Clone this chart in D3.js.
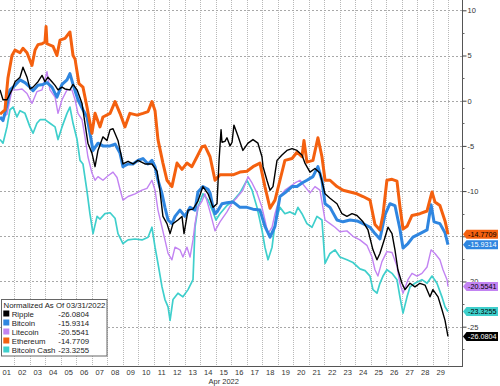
<!DOCTYPE html>
<html><head><meta charset="utf-8">
<script src="https://cdn.jsdelivr.net/npm/d3@7"></script>
<style>html,body{margin:0;padding:0;background:#fff;}svg{display:block;font-family:"Liberation Sans",Arial,sans-serif;}</style>
</head><body><svg id="c" width="500" height="386"></svg>
<script>
// ---- data (day offset since 2022-04-01 00:00, normalized % change) ----
const seriesNames = ["Ripple","Bitcoin","Litecoin","Ethereum","Bitcoin Cash"];
const lastValues = [-26.0804,-15.9314,-20.5541,-14.7709,-23.3255];
const dayLabels = ["01","02","03","04","05","06","07","08","09","10","11","12","13","14","15","16","17","18","19","20","21","22","23","24","25","26","27","28","29"];
const yTicks = [10,5,0,-5,-10,-15,-20,-25];
const yTickLabels = ["10","5","0","-5","-10","","-20","-25"]; // -15 is hidden behind the end labels
const monthLabel = "Apr 2022";
const legendTitle = "Normalized As Of 03/31/2022";

const ripple = [[0.07,1.2],[0.26,0.1],[0.52,0.1],[0.84,1.2],[1.04,2.1],[1.36,2.6],[1.55,3.7],[1.81,2.6],[2.00,1.3],[2.20,1.5],[2.52,2.1],[2.78,2.8],[2.97,2.1],[3.16,2.6],[3.42,2.1],[3.62,1.7],[3.81,1.2],[4.07,1.5],[4.26,1.3],[4.58,1.2],[4.78,1.8],[5.04,1.2],[5.36,-0.3],[5.55,-2.5],[5.74,-4.7],[6.00,-5.8],[6.20,-7.3],[6.39,-5.5],[6.71,-4.0],[6.97,-4.4],[7.17,-3.2],[7.36,-3.1],[7.68,-4.4],[8.00,-7.0],[8.33,-6.7],[8.65,-7.0],[8.97,-6.6],[9.42,-7.0],[9.87,-7.0],[10.20,-7.8],[10.39,-10.0],[10.58,-12.8],[10.84,-13.6],[11.04,-14.7],[11.23,-13.6],[11.55,-13.2],[11.81,-12.8],[11.94,-14.7],[12.20,-12.1],[12.52,-12.0],[12.84,-11.1],[13.16,-9.5],[13.49,-10.3],[13.81,-11.8],[14.07,-11.4],[14.20,-6.6],[14.33,-3.2],[14.39,-4.6],[14.58,-4.5],[14.71,-4.1],[14.91,-5.0],[15.04,-4.6],[15.16,-2.7],[15.42,-3.9],[15.74,-5.5],[16.07,-4.7],[16.39,-4.3],[16.71,-4.7],[16.97,-6.2],[17.04,-7.3],[17.29,-8.8],[17.49,-9.9],[17.68,-9.5],[17.94,-6.6],[18.26,-6.0],[18.58,-5.5],[18.91,-5.3],[19.23,-5.5],[19.55,-6.0],[19.74,-6.9],[20.07,-7.9],[20.39,-7.5],[20.71,-8.0],[21.04,-10.3],[21.36,-10.8],[21.81,-11.4],[22.13,-12.5],[22.45,-12.8],[22.78,-12.5],[23.10,-12.7],[23.49,-13.4],[23.81,-14.3],[24.13,-16.5],[24.39,-17.6],[24.58,-16.9],[24.91,-15.1],[25.10,-14.0],[25.36,-14.7],[25.55,-16.5],[25.74,-18.7],[26.00,-20.2],[26.20,-20.9],[26.52,-20.2],[26.84,-20.6],[27.16,-20.2],[27.49,-20.4],[27.81,-21.7],[28.00,-20.9],[28.33,-21.7],[28.58,-23.1],[28.78,-24.3],[28.97,-26.0804]];

const bitcoin = [[0.07,-1.8],[0.26,-2.2],[0.52,-0.5],[0.71,1.2],[1.04,1.7],[1.36,2.3],[1.68,2.0],[2.00,1.5],[2.20,1.1],[2.52,1.7],[2.84,1.8],[3.10,2.0],[3.42,1.5],[3.74,0.4],[4.07,1.8],[4.39,2.3],[4.58,3.0],[4.78,1.8],[5.10,0.1],[5.42,-1.0],[5.68,-1.8],[5.87,-3.6],[6.07,-5.5],[6.39,-4.7],[6.71,-5.0],[7.17,-5.0],[7.49,-4.8],[7.81,-5.8],[8.00,-7.3],[8.33,-7.0],[8.65,-7.0],[8.97,-6.6],[9.29,-6.4],[9.62,-7.0],[9.87,-6.6],[10.07,-7.3],[10.26,-8.8],[10.52,-10.3],[10.71,-11.8],[10.91,-13.2],[11.16,-13.6],[11.36,-12.8],[11.68,-12.1],[12.00,-12.8],[12.33,-11.8],[12.65,-12.1],[12.84,-10.1],[13.16,-9.5],[13.49,-9.8],[13.62,-10.2],[13.81,-11.8],[13.94,-12.5],[14.07,-12.3],[14.39,-11.4],[14.71,-11.3],[15.10,-11.2],[15.55,-11.8],[16.00,-11.8],[16.39,-12.0],[16.84,-12.1],[17.16,-13.9],[17.49,-15.1],[17.81,-13.9],[18.13,-10.6],[18.45,-10.2],[18.91,-9.5],[19.23,-9.5],[19.55,-9.1],[19.87,-8.8],[20.26,-8.4],[20.58,-7.3],[20.84,-8.8],[21.04,-11.4],[21.36,-11.8],[21.81,-13.2],[22.20,-13.4],[22.65,-13.2],[23.10,-13.3],[23.49,-13.6],[23.94,-14.0],[24.26,-14.7],[24.58,-15.3],[24.91,-12.6],[25.23,-11.4],[25.55,-11.6],[25.87,-14.2],[26.07,-16.3],[26.39,-15.8],[26.71,-15.1],[27.16,-14.7],[27.62,-14.3],[27.88,-11.5],[28.07,-13.4],[28.45,-13.6],[28.78,-14.6],[28.97,-15.9314]];

const litecoin = [[0.07,-2.1],[0.52,-1.5],[0.84,1.2],[1.16,1.2],[1.49,1.3],[1.81,0.8],[2.13,-0.3],[2.45,1.0],[2.78,1.2],[3.10,3.2],[3.29,1.2],[3.62,0.4],[3.81,-1.4],[4.07,0.1],[4.39,1.2],[4.71,1.2],[4.91,0.1],[5.10,-1.4],[5.36,-2.1],[5.55,-4.0],[5.74,-6.2],[6.00,-8.0],[6.20,-8.8],[6.39,-8.4],[6.71,-8.8],[7.04,-8.3],[7.36,-7.9],[7.62,-8.5],[7.81,-9.8],[8.00,-11.0],[8.33,-10.6],[8.78,-10.3],[9.23,-9.9],[9.55,-9.7],[9.87,-8.8],[10.07,-9.9],[10.26,-12.1],[10.52,-14.0],[10.71,-15.4],[10.91,-16.9],[11.16,-17.6],[11.36,-16.2],[11.68,-16.5],[11.87,-17.3],[12.13,-16.2],[12.33,-17.3],[12.52,-15.4],[12.65,-13.6],[12.84,-11.8],[13.10,-11.1],[13.29,-10.3],[13.62,-12.3],[13.94,-14.4],[14.26,-13.4],[14.71,-12.3],[15.04,-11.3],[15.36,-10.7],[15.74,-9.9],[16.07,-8.4],[16.33,-9.1],[16.65,-10.2],[16.97,-11.8],[17.16,-13.2],[17.36,-14.7],[17.62,-14.0],[17.81,-12.5],[18.13,-10.6],[18.45,-9.9],[18.78,-9.5],[19.10,-9.1],[19.42,-8.8],[19.74,-9.5],[20.07,-10.2],[20.39,-9.5],[20.71,-9.9],[21.04,-13.2],[21.36,-13.6],[21.68,-14.0],[22.00,-14.5],[22.45,-14.4],[22.84,-15.0],[23.29,-15.4],[23.74,-16.0],[24.07,-17.3],[24.26,-18.7],[24.45,-19.4],[24.71,-17.8],[25.03,-16.7],[25.36,-16.8],[25.68,-18.3],[25.87,-20.2],[26.07,-21.3],[26.39,-19.8],[26.65,-19.1],[26.97,-19.4],[27.29,-19.1],[27.62,-18.4],[27.88,-16.5],[28.13,-16.9],[28.45,-17.6],[28.65,-18.7],[28.91,-19.8],[28.97,-20.5541]];

const ethereum = [[0.07,-1.5],[0.39,-1.0],[0.58,2.5],[0.84,5.0],[1.04,5.6],[1.36,5.3],[1.55,5.8],[1.81,5.3],[2.13,3.9],[2.33,5.6],[2.52,6.2],[2.78,6.3],[2.97,6.5],[3.04,8.2],[3.10,6.3],[3.49,6.0],[3.74,5.0],[3.94,6.7],[4.26,6.9],[4.58,7.6],[4.78,5.0],[4.91,4.6],[5.16,1.9],[5.42,1.5],[5.68,-0.7],[6.00,-3.6],[6.20,-1.4],[6.52,-2.9],[6.71,-1.8],[7.17,-1.4],[7.49,-0.1],[7.81,-1.4],[8.13,-2.9],[8.45,-1.4],[8.91,-1.6],[9.29,-1.4],[9.62,-1.2],[9.87,-0.1],[10.07,-1.1],[10.26,-4.3],[10.58,-6.9],[10.84,-8.8],[11.16,-9.5],[11.49,-6.9],[11.81,-7.6],[12.13,-6.9],[12.45,-7.3],[12.78,-6.2],[13.10,-5.1],[13.29,-5.0],[13.62,-6.2],[13.94,-8.8],[14.26,-8.2],[14.71,-8.2],[15.10,-8.2],[15.55,-7.9],[16.00,-7.8],[16.39,-7.3],[16.84,-6.9],[17.16,-9.5],[17.49,-11.9],[17.81,-11.0],[18.13,-8.8],[18.45,-6.6],[18.91,-6.4],[19.23,-5.7],[19.55,-6.2],[19.68,-4.4],[19.87,-6.8],[20.26,-6.6],[20.58,-4.1],[20.84,-6.2],[21.04,-8.8],[21.36,-8.8],[21.81,-9.5],[22.20,-9.9],[22.65,-10.1],[23.10,-10.3],[23.49,-10.6],[23.94,-11.0],[24.26,-13.7],[24.58,-14.3],[24.78,-12.6],[25.03,-8.8],[25.36,-8.7],[25.68,-8.9],[25.87,-11.7],[26.07,-14.2],[26.33,-13.9],[26.65,-12.7],[27.16,-12.5],[27.62,-12.2],[27.94,-10.1],[28.13,-11.2],[28.45,-11.6],[28.78,-13.3],[28.97,-14.7709]];

const bitcoinCash = [[0.07,-4.3],[0.26,-4.7],[0.52,-2.9],[0.71,-1.0],[0.91,-0.7],[1.16,-1.8],[1.36,-1.1],[1.68,-1.4],[2.00,-2.9],[2.20,-3.6],[2.45,-2.5],[2.65,-2.1],[2.97,-2.1],[3.29,-2.5],[3.62,-2.9],[3.81,-4.3],[4.07,-2.9],[4.39,-1.4],[4.58,-0.7],[4.78,-2.5],[5.04,-4.3],[5.23,-6.6],[5.42,-7.0],[5.68,-10.0],[5.87,-12.5],[6.07,-14.7],[6.33,-12.8],[6.52,-13.1],[6.84,-12.5],[7.17,-12.4],[7.49,-13.0],[7.68,-14.7],[8.00,-15.8],[8.33,-15.4],[8.78,-15.3],[9.23,-15.4],[9.62,-15.1],[9.87,-14.0],[10.07,-16.2],[10.26,-18.0],[10.52,-20.6],[10.71,-22.0],[10.91,-22.8],[11.04,-24.3],[11.23,-22.0],[11.55,-21.3],[11.87,-21.7],[12.20,-20.9],[12.52,-19.8],[12.65,-14.0],[12.84,-11.8],[13.16,-10.3],[13.49,-11.0],[13.81,-12.3],[14.00,-13.2],[14.26,-12.5],[14.71,-11.6],[15.10,-11.1],[15.55,-10.2],[16.00,-8.8],[16.33,-9.9],[16.65,-11.8],[16.97,-14.3],[17.16,-16.2],[17.36,-17.6],[17.62,-16.2],[17.81,-13.6],[18.13,-11.8],[18.45,-12.5],[18.78,-12.3],[19.10,-12.6],[19.29,-11.8],[19.55,-12.5],[19.87,-13.6],[20.20,-14.0],[20.52,-12.8],[20.84,-13.2],[21.04,-18.0],[21.36,-16.9],[21.68,-16.5],[22.00,-17.3],[22.45,-17.6],[22.84,-17.9],[23.29,-18.6],[23.62,-18.8],[23.94,-19.4],[24.13,-20.9],[24.39,-21.3],[24.58,-20.2],[24.78,-19.4],[25.03,-18.7],[25.36,-19.1],[25.68,-19.8],[25.87,-21.7],[26.07,-23.5],[26.33,-21.7],[26.52,-20.6],[26.84,-20.2],[27.29,-19.8],[27.62,-20.2],[27.94,-19.4],[28.26,-20.2],[28.58,-21.7],[28.78,-22.8],[28.97,-23.3255]];

// ---- styles ----
const colors = {"Ripple":"#000000","Bitcoin":"#2f86e0","Litecoin":"#c283f2","Ethereum":"#f4600f","Bitcoin Cash":"#3fcfcc"};
const widths = {"Ripple":1.4,"Bitcoin":3,"Litecoin":1.4,"Ethereum":3,"Bitcoin Cash":1.7};
const labelText = {"Ripple":"#fff","Bitcoin":"#fff","Litecoin":"#000","Ethereum":"#000","Bitcoin Cash":"#000"};
const dataByName = {"Ripple":ripple,"Bitcoin":bitcoin,"Litecoin":litecoin,"Ethereum":ethereum,"Bitcoin Cash":bitcoinCash};
const drawOrder = ["Bitcoin Cash","Litecoin","Bitcoin","Ethereum","Ripple"];

const plotRight = 462.5, plotBottom = 366;
const t0 = Date.UTC(2022,3,1), DAY = 86400000;
const toDate = d => new Date(t0 + d*DAY);

const x = d3.scaleUtc().domain([toDate(0), toDate(29.94)]).range([-1.05, 463]);
const y = d3.scaleLinear().domain([-29.35, 11.14]).range([plotBottom, 0]);

const svg = d3.select("#c");
svg.append("defs").append("clipPath").attr("id","clip")
  .append("rect").attr("x",0).attr("y",0).attr("width",plotRight).attr("height",plotBottom);

// gridlines
const days = d3.utcDay.range(toDate(1), toDate(30));
svg.append("g").selectAll("line").data(days).join("line")
  .attr("x1",d=>Math.round(x(d))+0.5).attr("x2",d=>Math.round(x(d))+0.5)
  .attr("y1",0).attr("y2",plotBottom)
  .attr("stroke","#b8b8b8").attr("stroke-width",1).attr("stroke-dasharray","1,1");
svg.append("g").selectAll("line").data(yTicks).join("line")
  .attr("x1",0).attr("x2",plotRight)
  .attr("y1",d=>Math.round(y(d))+0.5).attr("y2",d=>Math.round(y(d))+0.5)
  .attr("stroke","#a8a8a8").attr("stroke-width",1).attr("stroke-dasharray","2,2");

// lines
const line = d3.line().x(d=>x(toDate(d[0]))).y(d=>y(d[1]));
const lg = svg.append("g").attr("clip-path","url(#clip)");
drawOrder.forEach(n=>{
  lg.append("path").datum(dataByName[n]).attr("d",line)
    .attr("fill","none").attr("stroke",colors[n]).attr("stroke-width",widths[n])
    .attr("stroke-linejoin","round");
});

// axes lines
svg.append("line").attr("x1",0).attr("x2",plotRight).attr("y1",plotBottom+0.5).attr("y2",plotBottom+0.5).attr("stroke","#555");
svg.append("line").attr("x1",plotRight).attr("x2",plotRight).attr("y1",0).attr("y2",plotBottom+1).attr("stroke","#555");

// right axis
const yAxis = d3.axisRight(y).tickValues(yTicks).tickSize(4).tickPadding(1)
  .tickFormat((d,i)=>yTickLabels[i]);
const ya = svg.append("g").attr("transform",`translate(${plotRight},0)`).call(yAxis);
ya.select(".domain").remove();
ya.selectAll(".tick line").attr("stroke","#444");
ya.selectAll("text").attr("font-size","7.5px").attr("fill","#333").attr("font-family","'Liberation Sans',Arial,sans-serif");
const minor = d3.range(-27.5, 11, 5);
svg.append("g").selectAll("line").data(minor).join("line")
  .attr("x1",plotRight).attr("x2",plotRight+2)
  .attr("y1",d=>Math.round(y(d))+0.5).attr("y2",d=>Math.round(y(d))+0.5).attr("stroke","#666");

// x labels
svg.append("g").selectAll("text").data(dayLabels).join("text")
  .attr("x",(d,i)=>x(toDate(i+0.5))).attr("y",375)
  .attr("text-anchor","middle").attr("font-size","7.5px").attr("fill","#333").text(d=>d);
svg.append("text").attr("x",x(toDate(14.5))).attr("y",384).attr("text-anchor","middle")
  .attr("font-size","7.5px").attr("fill","#333").text(monthLabel);

// end labels
seriesNames.forEach((n,i)=>{
  const v = lastValues[i], yy = y(v);
  const g = svg.append("g");
  g.append("path").attr("d",`M${plotRight+0.5},${yy} L${plotRight+4},${yy-4.5} L498,${yy-4.5} L498,${yy+4.5} L${plotRight+4},${yy+4.5} Z`)
    .attr("fill",colors[n]);
  g.append("text").attr("x",plotRight+5.5).attr("y",yy+2.6).attr("font-size","7.2px")
    .attr("fill",labelText[n]).text(v.toFixed(4));
});

// legend
const leg = svg.append("g");
leg.append("rect").attr("x",1.5).attr("y",299.5).attr("width",105.5).attr("height",56.5)
  .attr("fill","#fff").attr("stroke","#666");
leg.append("text").attr("x",3.5).attr("y",307.5).attr("font-size","7.8px").attr("fill","#222").text(legendTitle);
seriesNames.forEach((n,i)=>{
  const by = 316.7 + i*9;
  leg.append("rect").attr("x",3.3).attr("y",by-6.2).attr("width",6).attr("height",6).attr("fill",colors[n]);
  leg.append("text").attr("x",11.7).attr("y",by).attr("font-size","7.8px").attr("fill","#222").text(n);
  leg.append("text").attr("x",58.3).attr("y",by).attr("font-size","7.8px").attr("fill","#222").text(lastValues[i].toFixed(4));
});
</script></body></html>
